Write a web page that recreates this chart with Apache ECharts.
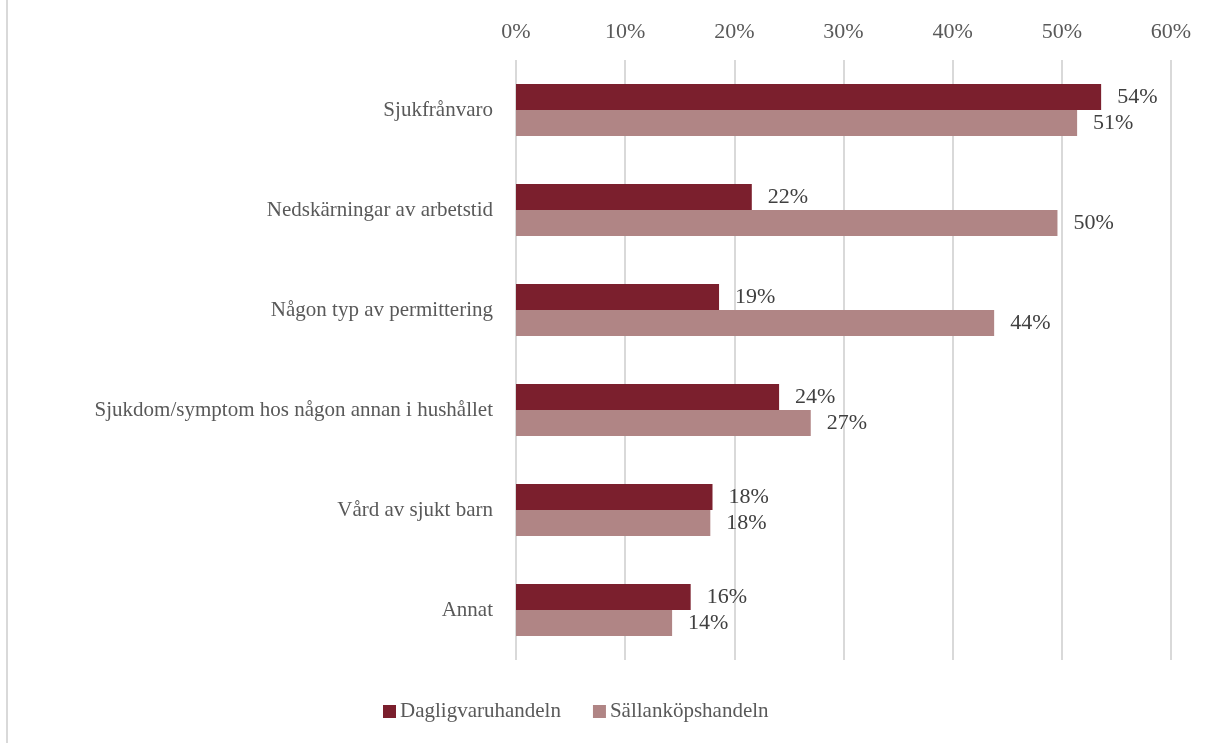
<!DOCTYPE html>
<html><head><meta charset="utf-8">
<script src="https://cdn.jsdelivr.net/npm/echarts@6/dist/echarts.min.js"></script>
<style>html,body{margin:0;padding:0;background:#fff}#c{width:1209px;height:743px}</style>
</head><body><div id="c"></div>
<script>
const categories = ["Sjukfrånvaro","Nedskärningar av arbetstid","Någon typ av permittering","Sjukdom/symptom hos någon annan i hushållet","Vård av sjukt barn","Annat"];
const dagligvaru = [53.6, 21.6, 18.6, 24.1, 18.0, 16.0];
const sallankop = [51.4, 49.6, 43.8, 27.0, 17.8, 14.3];
const seriesNames = ["Dagligvaruhandeln","Sällanköpshandeln"];
const font = "Liberation Serif";
const chart = echarts.init(document.getElementById('c'));
const lbl = {show:true, position:'right', distance:16, color:'#404040', fontFamily:font, fontSize:22, formatter:p=>Math.round(p.value)+'%'};
chart.setOption({
  animation:false,
  graphic:[{type:'line', shape:{x1:7,y1:0,x2:7,y2:743}, style:{stroke:'#d9d9d9', lineWidth:2}}],
  grid:{left:516, right:38, top:60, bottom:83},
  xAxis:{type:'value', position:'top', min:0, max:60, interval:10,
    axisLabel:{formatter:'{value}%', color:'#595959', fontFamily:font, fontSize:22, margin:17},
    axisLine:{show:false}, axisTick:{show:false},
    splitLine:{lineStyle:{color:'#d9d9d9', width:2}}},
  yAxis:{type:'category', data:categories, inverse:true,
    axisLabel:{color:'#595959', fontFamily:font, fontSize:21, margin:23},
    axisLine:{show:false}, axisTick:{show:false}},
  legend:{bottom:16, left:378, itemWidth:13, itemHeight:13, itemGap:32, icon:'rect',
    textStyle:{color:'#595959', fontFamily:font, fontSize:21, padding:[0,0,0,-1]}},
  series:[
    {name:seriesNames[0], type:'bar', data:dagligvaru, itemStyle:{color:'#7b1f2d'}, barGap:'0%', barCategoryGap:'48%', label:lbl},
    {name:seriesNames[1], type:'bar', data:sallankop, itemStyle:{color:'#b08585'}, label:lbl}
  ]
});
</script></body></html>
